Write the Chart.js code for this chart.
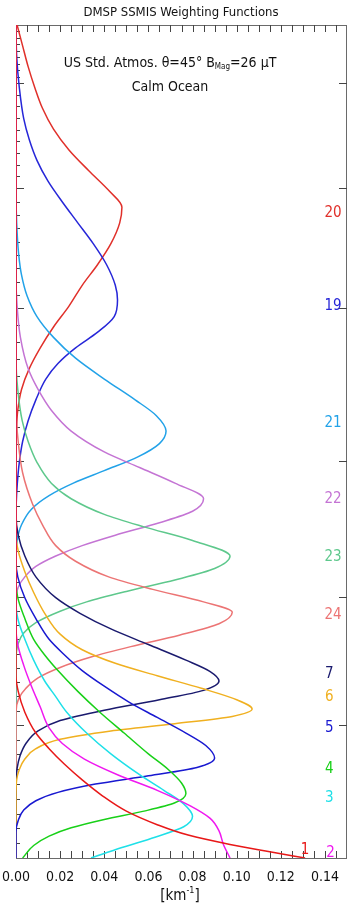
<!DOCTYPE html>
<html><head><meta charset="utf-8">
<script src="https://cdn.jsdelivr.net/npm/chart.js@4.4.1/dist/chart.umd.min.js"></script>
<style>html,body{margin:0;padding:0;background:#fff;}canvas{display:block;}</style>
</head><body>
<canvas id="c" width="356" height="916"></canvas>
<script>
// ---- DATA (altitude units, weighting function values in km^-1) ----
const alt_ch1  = [80, 17.5, 16, 14, 12, 10.5, 9, 7.5, 6, 4.5, 3.2, 2.2, 1.3, 0.6, 0];
const wf_ch1   = [0, 0, 0.001, 0.004, 0.009, 0.015, 0.022, 0.030, 0.039, 0.050, 0.064, 0.078, 0.097, 0.115, 0.131];
const alt_ch2  = [80, 22, 20.5, 18.5, 16.5, 14.5, 12.5, 11, 9.5, 8, 6.5, 5, 3.8, 2.6, 1.3, 0];
const wf_ch2   = [0, 0, 0.0008, 0.0035, 0.007, 0.011, 0.015, 0.021, 0.031, 0.046, 0.064, 0.079, 0.088, 0.092, 0.094, 0.097];
const alt_ch3  = [80, 24.5, 23, 21, 19, 17, 15.5, 14, 12, 10, 8, 6.5, 5.2, 4.0, 3.0, 2.0, 1.0, 0];
const wf_ch3   = [0, 0, 0.0008, 0.004, 0.008, 0.013, 0.018, 0.023, 0.032, 0.043, 0.056, 0.067, 0.076, 0.080, 0.076, 0.063, 0.048, 0.034];
const alt_ch4  = [80, 26.5, 25, 23, 21, 19.5, 18, 16, 14, 12, 10, 8.5, 7.2, 6.2, 5.3, 4.5, 3.7, 2.9, 2.1, 1.2, 0];
const wf_ch4   = [0, 0, 0.0008, 0.004, 0.008, 0.013, 0.019, 0.028, 0.038, 0.049, 0.060, 0.069, 0.075, 0.077, 0.072, 0.058, 0.040, 0.025, 0.015, 0.008, 0.003];
const alt_ch5  = [80, 28.5, 27, 25, 23, 21, 19.5, 18, 16.5, 15, 13.5, 12, 10.8, 9.6, 8.7, 7.9, 7.1, 6.3, 5.5, 4.6, 3.6, 2.5, 0];
const wf_ch5   = [0, 0, 0.0008, 0.004, 0.009, 0.015, 0.022, 0.030, 0.040, 0.051, 0.064, 0.077, 0.086, 0.090, 0.082, 0.060, 0.036, 0.019, 0.009, 0.0035, 0.001, 0, 0];
const alt_ch6  = [80, 31, 29.5, 27.5, 25.5, 23.5, 21.5, 20, 18.7, 17.5, 16.3, 15.2, 14.3, 13.6, 12.9, 12.2, 11.4, 10.5, 9.5, 8.5, 7.5, 6, 0];
const wf_ch6   = [0, 0, 0.001, 0.004, 0.008, 0.013, 0.020, 0.030, 0.045, 0.064, 0.084, 0.100, 0.107, 0.098, 0.072, 0.043, 0.020, 0.009, 0.004, 0.0015, 0.0003, 0, 0];
const alt_ch7  = [80, 33, 31, 29, 27, 25, 23.5, 22, 20.5, 19, 17.9, 17, 16.1, 15.2, 14.2, 13.2, 12.2, 11, 9.8, 8.6, 7, 0];
const wf_ch7   = [0, 0, 0.001, 0.004, 0.009, 0.018, 0.029, 0.043, 0.060, 0.077, 0.088, 0.092, 0.085, 0.065, 0.040, 0.020, 0.010, 0.0045, 0.0018, 0.0005, 0, 0];
const alt_ch24 = [80, 43, 40, 37, 34, 32, 30, 28.5, 27, 25.8, 24.6, 23.6, 22.5, 21.4, 20.3, 19.3, 18.3, 17.3, 16.3, 15.3, 14, 0];
const wf_ch24  = [0, 0, 0.001, 0.003, 0.0075, 0.012, 0.018, 0.027, 0.042, 0.062, 0.085, 0.098, 0.092, 0.074, 0.052, 0.034, 0.020, 0.010, 0.0045, 0.0012, 0, 0];
const alt_ch23 = [80, 48, 45, 42, 40, 38, 36, 34.5, 33, 31.8, 30.5, 29, 27.8, 26.7, 25.6, 24.6, 23.7, 22.6, 21.6, 20.6, 19, 0];
const wf_ch23  = [0, 0, 0.0008, 0.0028, 0.0055, 0.0095, 0.016, 0.025, 0.040, 0.058, 0.080, 0.097, 0.090, 0.072, 0.050, 0.032, 0.020, 0.009, 0.0035, 0.001, 0, 0];
const alt_ch22 = [80, 56, 53, 50, 47, 45, 43, 41, 39, 37.5, 36, 34.5, 33.3, 32.2, 31, 30, 29, 28, 27, 26, 24.5, 0];
const wf_ch22  = [0, 0, 0.0005, 0.002, 0.0055, 0.010, 0.016, 0.025, 0.040, 0.056, 0.072, 0.085, 0.080, 0.065, 0.045, 0.030, 0.018, 0.009, 0.004, 0.001, 0, 0];
const alt_ch21 = [80, 64, 61, 58, 56, 54, 52, 50, 48, 46, 44, 42.5, 41, 39.8, 38.5, 37.2, 36, 34.8, 33.5, 32, 30.5, 29, 0];
const wf_ch21  = [0, 0, 0.0003, 0.0012, 0.0025, 0.005, 0.0095, 0.017, 0.027, 0.040, 0.054, 0.0635, 0.068, 0.065, 0.055, 0.040, 0.026, 0.015, 0.007, 0.0025, 0.0005, 0, 0];
const alt_ch19 = [80, 77, 74, 71, 69, 67, 65, 63, 61, 59, 57, 55, 53.6, 52, 50.5, 49, 47.5, 46, 44, 42, 40, 38, 36, 34, 32, 0];
const wf_ch19  = [0, 0.0003, 0.0015, 0.0035, 0.006, 0.0095, 0.0145, 0.021, 0.028, 0.035, 0.041, 0.045, 0.046, 0.0445, 0.037, 0.027, 0.019, 0.0135, 0.009, 0.0055, 0.003, 0.0015, 0.0006, 0.0001, 0, 0];
const alt_ch20 = [80, 78, 76, 74, 72, 70, 68, 66, 64, 62.5, 61, 59, 57, 55, 53, 51, 49, 47, 45, 43, 41, 39, 0];
const wf_ch20  = [0.0005, 0.003, 0.0055, 0.0085, 0.012, 0.017, 0.024, 0.033, 0.0425, 0.048, 0.047, 0.043, 0.037, 0.030, 0.024, 0.017, 0.011, 0.006, 0.0025, 0.0008, 0.0002, 0, 0];

const channelNames  = ['1', '2', '3', '4', '5', '6', '7', '24', '23', '22', '21', '19', '20'];
const channelColors = ['#e81818', '#f018f0', '#1ee0e8', '#18d018', '#1818d0', '#f0b020', '#1a1a6e',
                       '#ec7474', '#5ec88c', '#c474d4', '#22a2e8', '#2626d8', '#e0302a'];
const channelAlts = [alt_ch1, alt_ch2, alt_ch3, alt_ch4, alt_ch5, alt_ch6, alt_ch7, alt_ch24, alt_ch23, alt_ch22, alt_ch21, alt_ch19, alt_ch20];
const channelWfs  = [wf_ch1, wf_ch2, wf_ch3, wf_ch4, wf_ch5, wf_ch6, wf_ch7, wf_ch24, wf_ch23, wf_ch22, wf_ch21, wf_ch19, wf_ch20];

// channel label anchors (x in km^-1, y in altitude units)
const labelX   = [0.1310, 0.1425, 0.1420, 0.1420, 0.1420, 0.1420, 0.1420, 0.1437, 0.1437, 0.1437, 0.1437, 0.1437, 0.1437];
const labelAlt = [0.77, 0.48, 5.77, 8.56, 12.5, 15.48, 17.69, 23.37, 28.85, 34.42, 41.73, 52.98, 61.92];

const xTickLabels = ['0.00', '0.02', '0.04', '0.06', '0.08', '0.10', '0.12', '0.14'];
const xTickValues = [0, 0.02, 0.04, 0.06, 0.08, 0.10, 0.12, 0.14];
const yMajorTicks = [12.79, 25.10, 38.17, 52.79, 64.33, 74.42];

const FONT = "'Liberation Sans Narrow', 'DejaVu Sans Condensed', 'Liberation Sans', sans-serif";

const datasets = channelNames.map((n, i) => ({
  label: n,
  data: channelAlts[i].map((a, k) => ({ x: channelWfs[i][k], y: a })),
  borderColor: channelColors[i],
  borderWidth: 1.5,
  pointRadius: 0,
  fill: false,
  cubicInterpolationMode: 'monotone'
}));

function drawPieces(ctx, pieces, cx, cy) {
  let total = 0;
  pieces.forEach(p => { ctx.font = p.size + 'px ' + FONT; p.w = ctx.measureText(p.t).width; total += p.w; });
  let xx = cx - total / 2;
  pieces.forEach(p => {
    ctx.font = p.size + 'px ' + FONT;
    ctx.textAlign = 'left';
    ctx.fillText(p.t, xx, cy + (p.dy || 0));
    xx += p.w;
  });
}

const framePlugin = {
  id: 'framePlugin',
  beforeDatasetsDraw(chart) {
    const { ctx, chartArea: a, scales: { x, y } } = chart;
    ctx.save();
    ctx.strokeStyle = '#6a6a6a';
    ctx.lineWidth = 1;
    ctx.strokeRect(a.left + 0.5, a.top + 0.5, a.right - a.left - 1, a.bottom - a.top);
    ctx.strokeStyle = '#444';
    for (let k = 1; k * 0.005 < 0.15 - 1e-9; k++) {
      const px = Math.round(x.getPixelForValue(k * 0.005)) + 0.5;
      const len = 7;
      ctx.beginPath();
      ctx.moveTo(px, a.bottom); ctx.lineTo(px, a.bottom - len);
      ctx.moveTo(px, a.top); ctx.lineTo(px, a.top + len);
      ctx.stroke();
    }
    const majors = [0].concat(yMajorTicks).concat([80]);
    for (let m = 0; m < majors.length - 1; m++) {
      for (let s = 1; s < 9; s++) {
        const v = majors[m] + (majors[m + 1] - majors[m]) * s / 9;
        const py = Math.round(y.getPixelForValue(v)) + 0.5;
        ctx.beginPath(); ctx.moveTo(a.left, py); ctx.lineTo(a.left + 4, py); ctx.stroke();
      }
    }
    yMajorTicks.forEach(v => {
      const py = Math.round(y.getPixelForValue(v)) + 0.5;
      ctx.beginPath();
      ctx.moveTo(a.left, py); ctx.lineTo(a.left + 8, py);
      ctx.moveTo(a.right, py); ctx.lineTo(a.right - 8, py);
      ctx.stroke();
    });
    ctx.restore();
  },
  afterDatasetsDraw(chart) {
    const { ctx, scales: { x, y } } = chart;
    ctx.save();
    ctx.fillStyle = '#111';
    ctx.textBaseline = 'middle';
    drawPieces(ctx, [{ t: 'DMSP SSMIS Weighting Functions', size: 13 }], 181, 13);
    drawPieces(ctx, [{ t: 'US Std. Atmos. \u03B8=45\u00B0 B', size: 14 }, { t: 'Mag', size: 8, dy: 4 }, { t: '=26 \u03BCT', size: 14 }], 170, 63);
    drawPieces(ctx, [{ t: 'Calm Ocean', size: 14 }], 170, 87);
    xTickValues.forEach((v, i) => {
      drawPieces(ctx, [{ t: xTickLabels[i], size: 14 }], x.getPixelForValue(v), 877);
    });
    drawPieces(ctx, [{ t: '[km', size: 15 }, { t: '-1', size: 9, dy: -5 }, { t: ']', size: 15 }], 180, 896);
    channelNames.forEach((n, i) => {
      ctx.fillStyle = channelColors[i];
      drawPieces(ctx, [{ t: n, size: 15 }], x.getPixelForValue(labelX[i]), y.getPixelForValue(labelAlt[i]));
    });
    ctx.restore();
  }
};

new Chart(document.getElementById('c'), {
  type: 'line',
  data: { datasets },
  options: {
    indexAxis: 'y',
    responsive: false,
    animation: false,
    events: [],
    layout: { padding: { left: 16, right: 9, top: 25, bottom: 58 } },
    plugins: { legend: { display: false }, tooltip: { enabled: false }, title: { display: false } },
    scales: {
      x: { type: 'linear', min: 0, max: 0.15, display: false },
      y: { type: 'linear', min: 0, max: 80, display: false }
    }
  },
  plugins: [framePlugin]
});
</script>
</body></html>
